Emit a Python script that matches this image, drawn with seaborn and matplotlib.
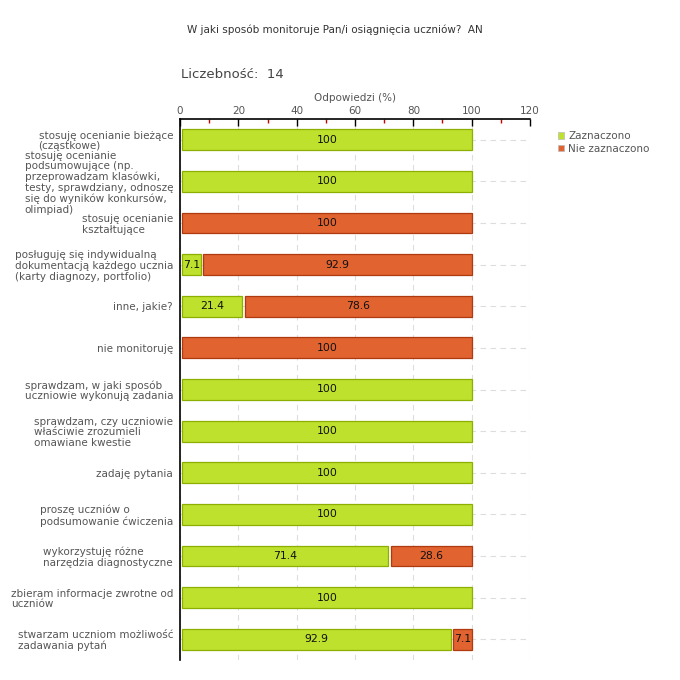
import matplotlib
matplotlib.use("Agg")
import matplotlib.pyplot as plt
import seaborn as sns
import numpy as np
from matplotlib.ticker import FixedLocator
from matplotlib.patches import Patch

sns.set_style("white")
plt.rcParams['font.family'] = ['DejaVu Sans']

categories = [
    "stosuję ocenianie bieżące\n(cząstkowe)",
    "stosuję ocenianie\npodsumowujące (np.\nprzeprowadzam klasówki,\ntesty, sprawdziany, odnoszę\nsię do wyników konkursów,\nolimpiad)",
    "stosuję ocenianie\nkształtujące",
    "posługuję się indywidualną\ndokumentacją każdego ucznia\n(karty diagnozy, portfolio)",
    "inne, jakie?",
    "nie monitoruję",
    "sprawdzam, w jaki sposób\nuczniowie wykonują zadania",
    "sprawdzam, czy uczniowie\nwłaściwie zrozumieli\nomawiane kwestie",
    "zadaję pytania",
    "proszę uczniów o\npodsumowanie ćwiczenia",
    "wykorzystuję różne\nnarzędzia diagnostyczne",
    "zbieram informacje zwrotne od\nuczniów",
    "stwarzam uczniom możliwość\nzadawania pytań",
]
zaznaczono = [100, 100, 0, 7.1, 21.4, 0, 100, 100, 100, 100, 71.4, 100, 92.9]
nie_zaznaczono = [0, 0, 100, 92.9, 78.6, 100, 0, 0, 0, 0, 28.6, 0, 7.1]
series_names = ["Zaznaczono", "Nie zaznaczono"]
x_ticks = [0, 20, 40, 60, 80, 100, 120]
x_minor = [10, 30, 50, 70, 90, 110]

title = "W jaki sposób monitoruje Pan/i osiągnięcia uczniów?  AN"
count_text = "Liczebność:  14"
axis_label = "Odpowiedzi (%)"

face_colors = ["#BDE12D", "#E06330"]
edge_colors = ["#8DB000", "#B03A10"]
text_gray = "#555555"

fig = plt.figure(figsize=(6.8, 6.8), dpi=100)
ax = fig.add_axes([180/680, 1 - 660/680, 350/680, (660 - 119)/680])

pos = np.arange(len(categories))
pad = 0.8
bar_h = 0.5
cum = np.zeros(len(categories))
for s, vals in enumerate([zaznaczono, nie_zaznaczono]):
    vals = np.array(vals, dtype=float)
    for i, v in enumerate(vals):
        if v > 0:
            ax.barh(pos[i], v - pad, left=cum[i] + pad, height=bar_h,
                    color=face_colors[s], edgecolor=edge_colors[s], linewidth=0.9, zorder=3)
            ax.text(cum[i] + pad/2 + v/2, pos[i], f"{v:g}", ha="center", va="center",
                    fontsize=7.8, color="#111111", zorder=4)
    cum += vals

ax.set_xlim(0, 120)
ax.set_ylim(len(categories) - 0.5, -0.5)
ax.set_xticks(x_ticks)
ax.xaxis.set_minor_locator(FixedLocator(x_minor))
ax.xaxis.tick_top()
ax.xaxis.set_label_position("top")
ax.set_xlabel(axis_label, fontsize=7.5, color=text_gray, labelpad=4)
ax.tick_params(axis="x", which="major", direction="in", length=5, width=1, colors="black",
               labelcolor=text_gray, labelsize=7.5, pad=2)
ax.tick_params(axis="x", which="minor", direction="in", length=3, width=1, colors="#D00000")

ax.set_yticks(pos)
ax.set_yticklabels(categories, fontsize=7.5, color=text_gray, linespacing=1.08)
for t in ax.get_yticklabels():
    t.set_multialignment("left")
ax.tick_params(axis="y", which="major", direction="out", length=3, width=1, colors="black",
               labelcolor=text_gray, pad=2)

for sp in ["right", "bottom"]:
    ax.spines[sp].set_visible(False)
ax.spines["left"].set_color("black")
ax.spines["top"].set_color("black")
ax.spines["left"].set_linewidth(1.2)
ax.spines["top"].set_linewidth(1.2)

ax.grid(True, axis="both", which="major", linestyle=(0, (5, 4)), color="#DDDDDD", linewidth=0.8, zorder=0)
ax.set_axisbelow(True)

fig.text(335/680, 1 - 30/680, title, ha="center", va="center", fontsize=7.5, color="#333333")
fig.text(181/680, 1 - 75/680, count_text, ha="left", va="center", fontsize=9.5, color="#444444")

handles = [Patch(facecolor=face_colors[k], edgecolor="#BBBBBB", linewidth=0.5) for k in range(2)]
fig.legend(handles, series_names, loc="upper left", bbox_to_anchor=(558/680, 1 - 131/680),
           frameon=False, fontsize=7.5, handlelength=0.6, handleheight=0.6, handletextpad=0.4,
           labelspacing=0.25, borderaxespad=0, borderpad=0, labelcolor=text_gray)

fig.savefig("out.png", dpi=100)
